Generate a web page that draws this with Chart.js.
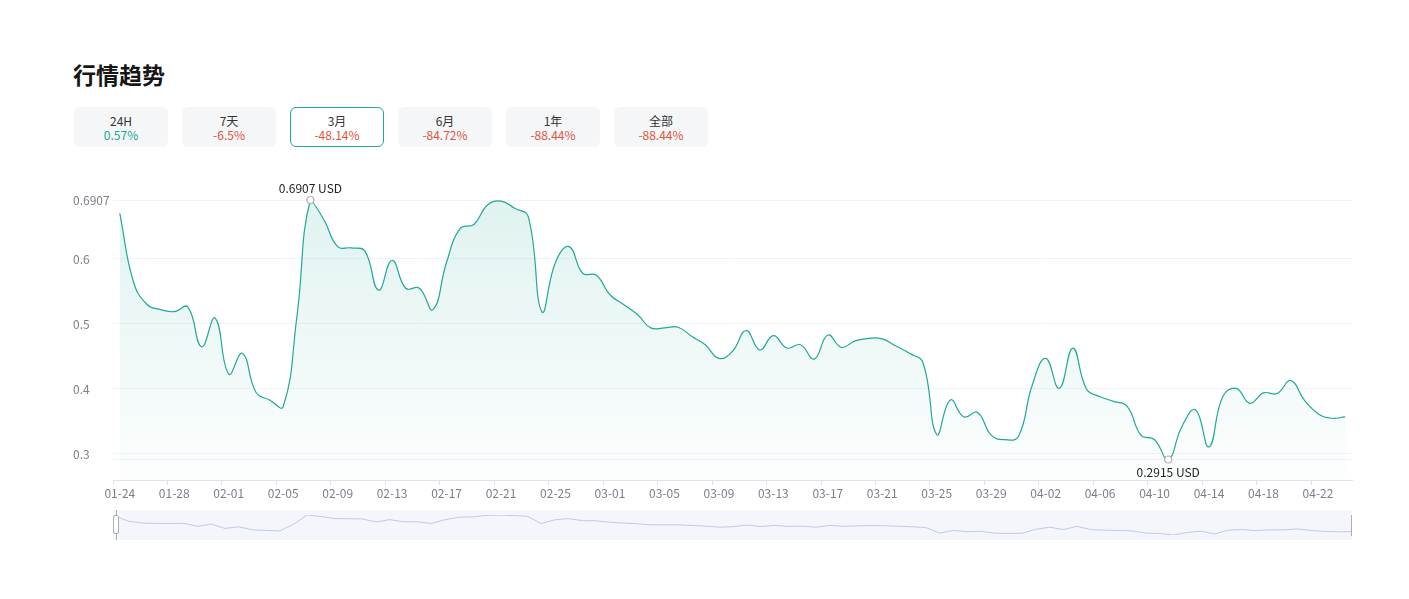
<!DOCTYPE html>
<html>
<head>
<meta charset="utf-8">
<script src="https://cdn.jsdelivr.net/npm/chart.js@4.4.1/dist/chart.umd.min.js"></script>
<style>
  body { margin: 0; background: #fff; width: 1409px; height: 599px; overflow: hidden; position: relative;
         font-family: "Noto Sans CJK SC", "Noto Sans", sans-serif; }
  h2 { position: absolute; left: 73px; top: 57px; margin: 0; font-size: 23px; font-weight: 700; color: #161616; line-height: 34px; }
  .tabs { position: absolute; left: 74px; top: 107px; }
  .tab { position: absolute; top: 0; width: 94px; height: 40px; box-sizing: border-box; border-radius: 6px;
         background: #f5f6f8; text-align: center; font-size: 12px; line-height: 14px; padding-top: 7px; color: #333; }
  .tab.on { background: #fff; border: 1px solid #20a898; padding-top: 6px; }
  .tab .up { color: #16a898; }
  .tab .down { color: #e0533f; }
  #main { position: absolute; left: 0; top: 170px; }
  #slider-bg { position: absolute; left: 113px; top: 510px; width: 1239px; height: 30px; background: #f4f6fc; }
  #mini { position: absolute; left: 0; top: 510px; }
  .hline { position: absolute; width: 1px; background: #a9aeb8; }
  .handle { position: absolute; left: 113px; top: 515px; width: 6px; height: 19px; box-sizing: border-box;
            border: 1px solid #a9aeb8; border-radius: 2px; background: #fff; }
</style>
</head>
<body>
<h2>行情趋势</h2>
<div class="tabs" id="tabs"></div>
<canvas id="main" width="1409" height="340" style="width:1409px;height:340px"></canvas>
<div id="slider-bg"></div>
<canvas id="mini" width="1409" height="30" style="width:1409px;height:30px"></canvas>
<div class="hline" style="left:116px;top:510px;height:30px"></div>
<div class="handle"></div>
<div class="hline" style="left:1351px;top:515px;height:21px"></div>
<script>
const periods = ["24H", "7天", "3月", "6月", "1年", "全部"];
const changes = ["0.57%", "-6.5%", "-48.14%", "-84.72%", "-88.44%", "-88.44%"];
const activePeriod = 2;

const dates = [
  "01-24","01-25","01-26","01-27","01-28","01-29","01-30","01-31",
  "02-01","02-02","02-03","02-04","02-05","02-06","02-07","02-08","02-09","02-10","02-11","02-12","02-13","02-14",
  "02-15","02-16","02-17","02-18","02-19","02-20","02-21","02-22","02-23","02-24","02-25","02-26","02-27","02-28",
  "03-01","03-02","03-03","03-04","03-05","03-06","03-07","03-08","03-09","03-10","03-11","03-12","03-13","03-14",
  "03-15","03-16","03-17","03-18","03-19","03-20","03-21","03-22","03-23","03-24","03-25","03-26","03-27","03-28",
  "03-29","03-30","03-31",
  "04-01","04-02","04-03","04-04","04-05","04-06","04-07","04-08","04-09","04-10","04-11","04-12","04-13","04-14",
  "04-15","04-16","04-17","04-18","04-19","04-20","04-21","04-22","04-23","04-24"
];
const prices = [
  0.670, 0.565, 0.530, 0.522, 0.519, 0.526, 0.465, 0.509, 0.423, 0.455,
  0.395, 0.383, 0.373, 0.510, 0.6907, 0.660, 0.619, 0.617, 0.612, 0.552,
  0.598, 0.555, 0.555, 0.522, 0.595, 0.647, 0.653, 0.683, 0.689, 0.678,
  0.665, 0.519, 0.595, 0.619, 0.578, 0.575, 0.545, 0.530, 0.515, 0.494,
  0.494, 0.495, 0.481, 0.468, 0.447, 0.458, 0.490, 0.460, 0.482, 0.463,
  0.468, 0.446, 0.483, 0.464, 0.474, 0.478, 0.477, 0.466, 0.455, 0.440,
  0.330, 0.383, 0.357, 0.364, 0.329, 0.322, 0.327, 0.405, 0.447, 0.401,
  0.463, 0.400, 0.388, 0.381, 0.373, 0.329, 0.322, 0.2915, 0.342, 0.368,
  0.311, 0.388, 0.401, 0.378, 0.394, 0.393, 0.413, 0.383, 0.362, 0.355,
  0.357
];
const yTicks = [0.2915, 0.3, 0.4, 0.5, 0.6, 0.6907];
const unit = "USD";

// tabs
const tabs = document.getElementById('tabs');
periods.forEach((p, i) => {
  const d = document.createElement('div');
  d.className = 'tab' + (i === activePeriod ? ' on' : '');
  d.style.left = (i * 108) + 'px';
  const cls = changes[i].startsWith('-') ? 'down' : 'up';
  d.innerHTML = '<div>' + p + '</div><div class="' + cls + '">' + changes[i] + '</div>';
  tabs.appendChild(d);
});

const maxIdx = prices.indexOf(Math.max(...prices));
const minIdx = prices.indexOf(Math.min(...prices));
const lineColor = '#20a898';
const axisFont = { family: '"Noto Sans CJK SC", "Noto Sans", sans-serif', size: 12 };

const extremeLabels = {
  id: 'extremeLabels',
  afterDatasetsDraw(chart) {
    const meta = chart.getDatasetMeta(0);
    const ctx = chart.ctx;
    ctx.save();
    ctx.font = '12px "Noto Sans CJK SC", "Noto Sans", sans-serif';
    ctx.fillStyle = '#222';
    ctx.textAlign = 'center';
    ctx.textBaseline = 'middle';
    const hi = meta.data[maxIdx], lo = meta.data[minIdx];
    ctx.fillText(prices[maxIdx] + ' ' + unit, hi.x, hi.y - 12);
    ctx.fillText(prices[minIdx] + ' ' + unit, lo.x, lo.y + 13);
    ctx.restore();
  }
};

new Chart(document.getElementById('main'), {
  type: 'line',
  data: {
    labels: dates,
    datasets: [{
      data: prices,
      borderColor: lineColor,
      borderWidth: 1.2,
      tension: 0.45,
      clip: false,
      fill: 'start',
      backgroundColor(context) {
        const { ctx, chartArea } = context.chart;
        if (!chartArea) return 'rgba(32,168,152,0.08)';
        const g = ctx.createLinearGradient(0, chartArea.top, 0, chartArea.bottom);
        g.addColorStop(0, 'rgba(32,168,152,0.14)');
        g.addColorStop(1, 'rgba(32,168,152,0.01)');
        return g;
      },
      pointRadius: c => (c.dataIndex === maxIdx || c.dataIndex === minIdx) ? 3.5 : 0,
      pointBackgroundColor: '#fff',
      pointBorderColor: '#b0b0b0',
      pointBorderWidth: 1.2
    }]
  },
  options: {
    responsive: false,
    animation: false,
    events: [],
    layout: { padding: { left: 73, right: 57, top: 30, bottom: 0 } },
    plugins: { legend: { display: false }, tooltip: { enabled: false } },
    scales: {
      x: {
        type: 'category',
        offset: true,
        afterFit(s) { s.height = 30; },
        border: { color: '#dfe3ec' },
        grid: {
          offset: true,
          drawOnChartArea: false,
          tickLength: 5,
          color: c => (c.index % 4 === 0) ? '#dfe3ec' : 'rgba(0,0,0,0)'
        },
        ticks: {
          autoSkip: false,
          maxRotation: 0,
          padding: 1,
          color: '#7c7f86',
          font: axisFont,
          callback: (v, i) => i % 4 === 0 ? dates[i] : ''
        }
      },
      y: {
        min: 0.26,
        max: 0.6907,
        afterFit(s) { s.width = 40; },
        afterBuildTicks(s) { s.ticks = yTicks.map(v => ({ value: v })); },
        border: { display: false },
        grid: { color: '#f2f3f5', drawTicks: false },
        ticks: {
          crossAlign: 'far',
          padding: 0,
          color: '#7c7f86',
          font: axisFont,
          callback: v => v === 0.2915 ? '' : String(v)
        }
      }
    }
  },
  plugins: [extremeLabels]
});

// data zoom preview
new Chart(document.getElementById('mini'), {
  type: 'line',
  data: {
    labels: dates,
    datasets: [{
      data: prices,
      borderColor: '#bfc9ea',
      borderWidth: 1,
      tension: 0,
      pointRadius: 0,
      fill: false
    }]
  },
  options: {
    responsive: false,
    animation: false,
    events: [],
    layout: { padding: { left: 115, right: 57, top: 5, bottom: 5 } },
    plugins: { legend: { display: false }, tooltip: { enabled: false } },
    scales: {
      x: { display: false },
      y: { display: false, min: 0.2915, max: 0.6907 }
    }
  }
});
</script>
</body>
</html>
